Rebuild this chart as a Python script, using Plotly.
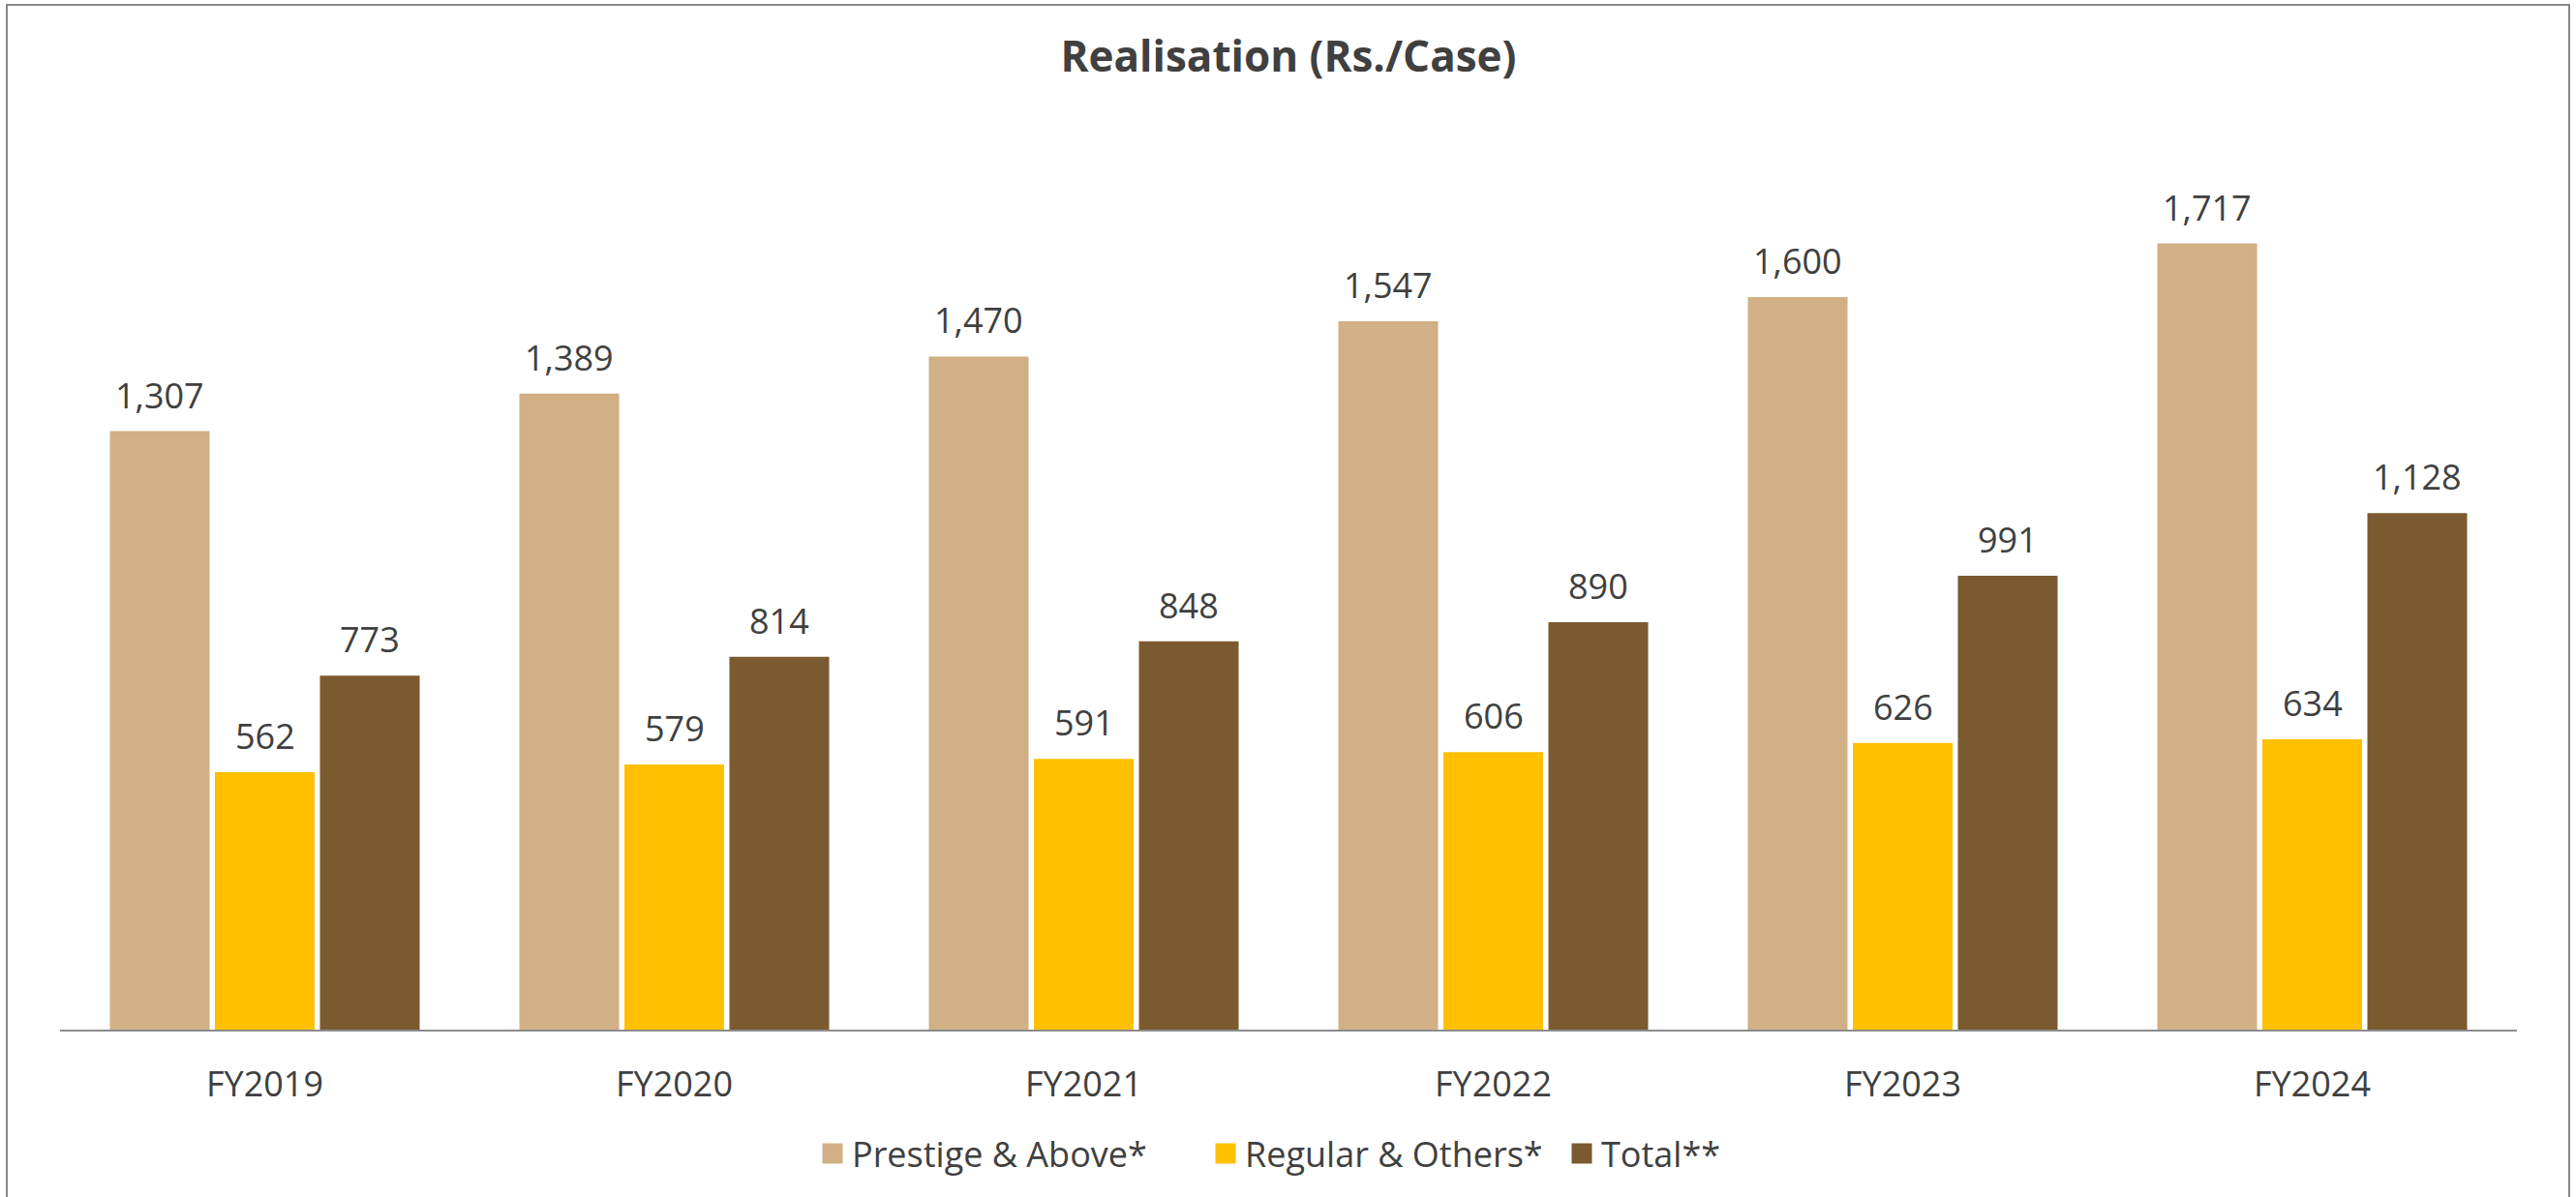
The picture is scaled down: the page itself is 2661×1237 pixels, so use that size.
import plotly.graph_objects as go

categories = ["FY2019", "FY2020", "FY2021", "FY2022", "FY2023", "FY2024"]
prestige = [1307, 1389, 1470, 1547, 1600, 1717]
regular = [562, 579, 591, 606, 626, 634]
total = [773, 814, 848, 890, 991, 1128]

series_names = ["Prestige & Above*", "Regular & Others*", "Total**"]
series_values = [prestige, regular, total]
colors = ["#D0B084", "#FFC000", "#7B5A30"]

TEXT = "#404040"
FONT = "Open Sans"
BARGAP = 0.2305
GROUPGAP = 0.0507
slot = (1 - BARGAP) / 3

L, R, T, B = 62, 61, 165, 173
W, H = 2661, 1237
pw, ph = W - L - R, H - T - B

legend_ids = ["legend", "legend2", "legend3"]
legend_left_px = [840, 1246, 1614]

fig = go.Figure()
for name, vals, col in zip(series_names, series_values, colors):
    fig.add_trace(go.Bar(x=categories, y=vals, name=name, marker=dict(color=col, line=dict(width=0)),
                         showlegend=False, hoverinfo="x+y+name"))
# legend entries (larger square symbols), one legend box per entry
for name, col, lid in zip(series_names, colors, legend_ids):
    fig.add_trace(go.Scatter(x=[None], y=[None], mode="markers", name=name, legend=lid,
                             marker=dict(symbol="square", size=16, color=col, line=dict(color=col, width=5)),
                             showlegend=True, hoverinfo="skip"))

annotations = []
for k, vals in enumerate(series_values):
    for i, v in enumerate(vals):
        annotations.append(dict(x=i + (k - 1) * slot, y=v, xref="x", yref="y",
                                text=f"{v:,}", showarrow=False, yanchor="bottom", yshift=11,
                                font=dict(family=FONT, size=36, color=TEXT)))

legend_common = dict(orientation="h", yanchor="middle", xanchor="left", borderwidth=0,
                     font=dict(family=FONT, size=36, color=TEXT), itemsizing="trace",
                     bgcolor="rgba(0,0,0,0)")
legends = {}
for lid, px in zip(legend_ids, legend_left_px):
    legends[lid] = dict(legend_common, x=(px - L) / pw, y=(H - B - 1192) / ph)

fig.update_layout(
    width=W, height=H,
    margin=dict(l=L, r=R, t=T, b=B),
    paper_bgcolor="white", plot_bgcolor="white",
    barmode="group", bargap=BARGAP, bargroupgap=GROUPGAP,
    title=dict(text="<b>Realisation (Rs./Case)</b>", x=0.5, xref="paper", y=1 - 59 / H, yanchor="middle",
               font=dict(family=FONT, size=44, color=TEXT)),
    font=dict(family=FONT, color=TEXT),
    xaxis=dict(showline=True, linecolor="#8C8C8C", linewidth=2, showgrid=False, ticks="",
               tickfont=dict(family=FONT, size=36, color=TEXT), zeroline=False, ticklabelstandoff=24),
    yaxis=dict(range=[0, 1900], visible=False, showgrid=False, zeroline=False),
    annotations=annotations,
    shapes=[dict(type="rect", xref="paper", yref="paper",
                 x0=(7 - L) / pw, x1=(2654 - L) / pw, y0=-0.4, y1=(H - B - 5) / ph,
                 line=dict(color="#888888", width=2), fillcolor="rgba(0,0,0,0)", layer="below")],
    **legends,
)

fig.write_html("out.html", config={"displayModeBar": False},
               post_script="document.body.style.margin='0';document.body.style.overflow='hidden';")
